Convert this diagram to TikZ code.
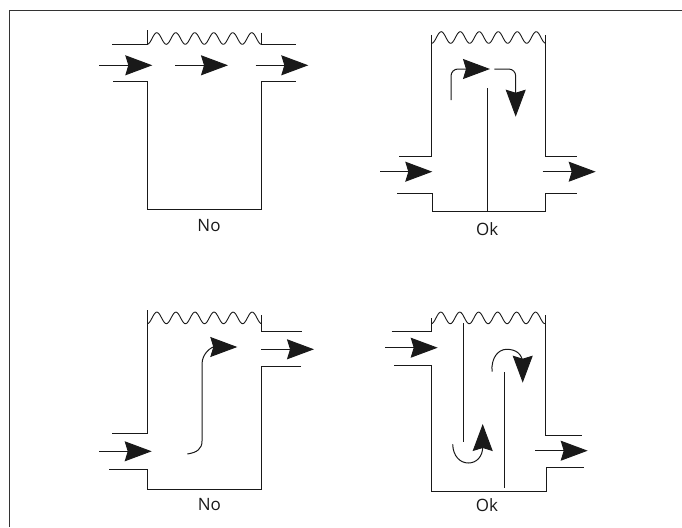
\documentclass[tikz,border=0pt]{standalone}
\usepackage{fontspec}
\setmainfont{Open Sans}
\usetikzlibrary{arrows.meta}

\tikzset{
  wall/.style={line width=1pt, black!90},
  flow/.style={line width=1pt, black!90, -{Stealth[length=27pt,width=20pt,inset=3pt]}},
  caption/.style={font=\fontsize{17}{20}\selectfont, black!90},
}

\newcommand{\wavetop}[3]{\draw[line width=0.9pt, black!90] plot[domain=0:1, samples=120, smooth] ({#1+(#2-#1)*\x}, {#3-5.8+5.8*cos(6*360*\x)});}

\begin{document}
\begin{tikzpicture}[x=1pt, y=-1pt]

\useasboundingbox (0,0) rectangle (682,527);
\draw[line width=1.6pt, black!80] (9.5,527) -- (9.5,10.5) -- (682,10.5);

% top left
\wavetop{147.3}{261.3}{44.3}
\draw[wall] (112.3,44.3) -- (147.3,44.3) -- (147.3,30);
\draw[wall] (261.3,32.7) -- (261.3,44.3) -- (295.7,44.3);
\draw[wall] (113.3,81) -- (147.3,81) -- (147.3,209.3) -- (261.3,209.3) -- (261.3,81) -- (295.7,81);
\draw[flow] (99.3,65.3) -- (152.3,65.3);
\draw[flow] (175,65.3) -- (228,65.3);
\draw[flow] (255.7,65.3) -- (308.3,65.3);
\node[caption] (cap1) at (209,226) {No};

% top right
\wavetop{431.7}{545.7}{43.3}
\draw[wall] (431.7,35) -- (431.7,156.7) -- (399.3,156.7);
\draw[wall] (545.7,35) -- (545.7,156.7) -- (576.7,156.7);
\draw[wall] (397.3,193) -- (432,193) -- (432,211.7) -- (545.7,211.7) -- (545.7,193) -- (577.3,193);
\draw[wall] (487,88.3) -- (487,211.7);
\draw[flow] (380,171.7) -- (432.3,171.7);
\draw[flow] (542.7,171.7) -- (595.7,171.7);
\draw[flow, rounded corners=7pt] (451,100) -- (451,69) -- (490,69);
\draw[flow, rounded corners=7pt] (494.3,69) -- (515.7,69) -- (515.7,116.7);
\node[caption] (cap2) at (487.3,229) {Ok};

% bottom left
\wavetop{147.3}{261.7}{323.7}
\draw[wall] (147.3,310) -- (147.3,433) -- (111.7,433);
\draw[wall] (261.7,315) -- (261.7,331.3) -- (301.7,331.3);
\draw[wall] (301,366.7) -- (261.7,366.7) -- (261.7,489) -- (147.7,489) -- (147.7,469.3) -- (109.3,469.3);
\draw[flow] (99,451.3) -- (151.7,451.3);
\draw[flow] (261,349.3) -- (314,349.3);
\draw[flow] (187.3,454) .. controls (197,452.5) and (202,449) .. (202,441) -- (202,364) .. controls (202,353) and (212,347) .. (237.3,347);
\node[caption] (cap3) at (209.3,504.3) {No};

% bottom right
\wavetop{431.3}{545}{323.7}
\draw[wall] (391.7,331.3) -- (431.3,331.3) -- (431.3,318.3);
\draw[wall] (394,365.3) -- (431.3,365.3) -- (431.3,491) -- (546,491) -- (546,467.7) -- (584,467.7);
\draw[wall] (545,315) -- (545,435.3) -- (582.3,435.3);
\draw[wall] (463.7,323.3) -- (463.7,442.3);
\draw[wall] (504,372.3) -- (504,487.7);
\draw[flow] (385,347.7) -- (437.7,347.7);
\draw[flow] (535.3,450.7) -- (587.7,450.7);
\draw[flow] (452.7,444.3) .. controls (453,456) and (460,463) .. (468.3,463) .. controls (477,463) and (482.7,456) .. (482.7,447) -- (482.7,424);
\draw[flow] (492,371.7) .. controls (491,358) and (498,349.3) .. (506.7,349.3) .. controls (516,349.3) and (522.7,354) .. (522.7,364) -- (522.7,382.7);
\node[caption] (cap4) at (487,505) {Ok};

\end{tikzpicture}
\end{document}
